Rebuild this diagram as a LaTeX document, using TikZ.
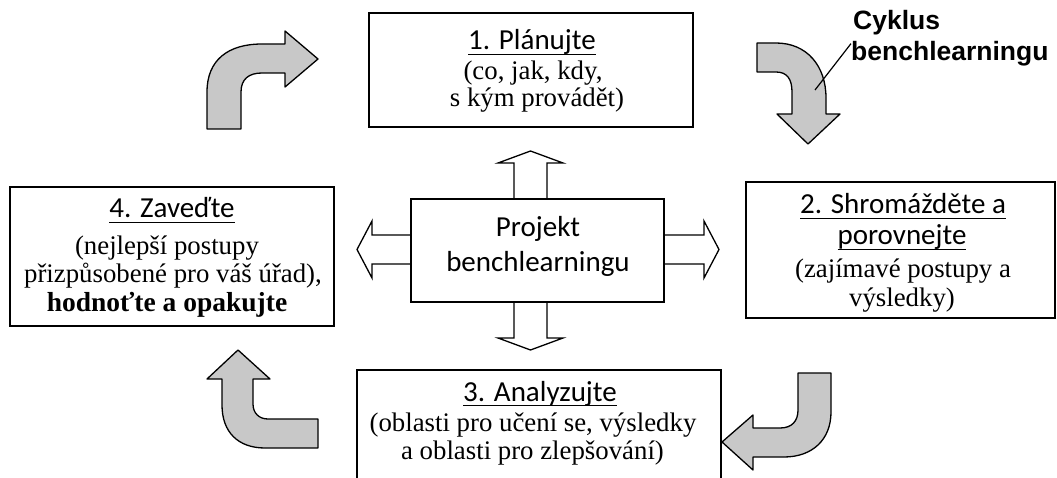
\documentclass[tikz,border=0pt]{standalone}
\usepackage{fontspec}
\newfontfamily\calfont{Carlito}
\newfontfamily\serfont{Liberation Serif}
\newfontfamily\labelfont{Liberation Sans}
\definecolor{arrowgray}{RGB}{200,200,200}
% underline set at a fixed depth below the baseline
\newsavebox{\ulinebox}
\newcommand{\ulined}[1]{\sbox{\ulinebox}{#1}\rlap{\rule[-5pt]{\wd\ulinebox}{1.4pt}}\usebox{\ulinebox}}
\tikzset{
  box/.style={draw, line width=1.6pt, fill=white, inner sep=0pt},
  headline/.style={anchor=base, inner sep=0pt, font=\calfont\fontsize{29}{34}\selectfont},
  bodyline/.style={anchor=base, inner sep=0pt, font=\serfont\fontsize{26.8}{30}\selectfont},
  boldline/.style={anchor=base, inner sep=0pt, font=\serfont\bfseries\fontsize{27.5}{30}\selectfont},
  cyclabel/.style={anchor=base west, inner sep=0pt, font=\labelfont\bfseries\fontsize{26.5}{31}\selectfont},
  bentarrow/.style={draw, line width=1.3pt, fill=arrowgray, line join=round},
  blockarrow/.style={draw, line width=1.3pt, fill=white, line join=miter},
  leader/.style={draw, line width=1.2pt},
}
\begin{document}
\begin{tikzpicture}[x=1pt,y=-1pt]
\clip (0,0) rectangle (1057,478);

% curved grey arrows of the cycle
\draw[bentarrow] (207,129) -- (207,92) .. controls (207,60) and (228,44) .. (262,44)
  -- (285,44) -- (285,31) -- (318,59) -- (285,87) -- (285,73) -- (262,73)
  .. controls (249,73) and (241,79) .. (241,92) -- (241,129) -- cycle;
\draw[bentarrow] (757,43) -- (776,43) .. controls (807,43) and (826,66) .. (826,98)
  -- (826,114) -- (840,114) -- (808,144) -- (777,114) -- (792,114) -- (792,92)
  .. controls (792,79) and (787,72) .. (776,72) -- (757,72) -- cycle;
\draw[bentarrow] (798,373) -- (831,373) -- (831,412) .. controls (831,440) and (812,457) .. (784,457)
  -- (753,457) -- (753,470) -- (722,442) -- (753,415) -- (753,428) -- (780,428)
  .. controls (792,428) and (798,421) .. (798,410) -- cycle;
\draw[bentarrow] (318,419) -- (318,448) -- (265,448) .. controls (238,448) and (222,432) .. (222,405)
  -- (222,379) -- (207,379) -- (238,350) -- (270,379) -- (253,379) -- (253,404)
  .. controls (253,413) and (259,419) .. (268,419) -- cycle;

% hollow arrows around the project box
\draw[blockarrow] (514,201) -- (514,163) -- (498,163) -- (530.5,151) -- (563,163) -- (547,163) -- (547,201) -- cycle;
\draw[blockarrow] (514,300) -- (514,338) -- (498,338) -- (530.5,350) -- (563,338) -- (547,338) -- (547,300) -- cycle;
\draw[blockarrow] (413,235) -- (372,235) -- (372,221) -- (357,249.5) -- (372,278) -- (372,264) -- (413,264) -- cycle;
\draw[blockarrow] (662,235) -- (704,235) -- (704,221) -- (719,249.5) -- (704,278) -- (704,264) -- (662,264) -- cycle;

% boxes
\node[box, minimum width=324pt, minimum height=114pt] (plan) at (531,70) {};
\node[box, minimum width=309pt, minimum height=136pt] (collect) at (900.5,250) {};
\node[box, minimum width=364pt, minimum height=130pt] (analyse) at (539,435) {};
\node[box, minimum width=324pt, minimum height=139pt] (adopt) at (172,256.5) {};
\node[box, minimum width=253pt, minimum height=103pt] (core) at (537.5,250.5) {};

% step 1
\node[headline] (plan1) at (532,50) {\ulined{1. Plánujte}};
\node[bodyline] (plan2) at (533,80) {(co, jak, kdy,};
\node[bodyline] (plan3) at (537,107) {s kým provádět)};

% step 2
\node[headline] (collect1) at (903,214) {\ulined{2. Shromážděte a}};
\node[headline] (collect2) at (902,245) {\ulined{porovnejte}};
\node[bodyline] (collect3) at (903,277) {(zajímavé postupy a};
\node[bodyline] (collect4) at (902,306) {výsledky)};

% step 3
\node[headline] (analyse1) at (540,401) {\ulined{3. Analyzujte}};
\node[bodyline] (analyse2) at (533,431) {(oblasti pro učení se, výsledky};
\node[bodyline] (analyse3) at (532.5,459) {a oblasti pro zlepšování)};

% step 4
\node[headline] (adopt1) at (172,218) {\ulined{4. Zaveďte}};
\node[bodyline] (adopt2) at (167,255) {(nejlepší postupy};
\node[bodyline] (adopt3) at (173,283) {přizpůsobené pro váš úřad),};
\node[boldline] (adopt4) at (167,312) {hodnoťte a opakujte};

% project box text
\node[headline] (core1) at (538,237) {Projekt};
\node[headline] (core2) at (538,272) {benchlearningu};

% cycle label with its leader line
\node[cyclabel] (cyc1) at (853,30) {Cyklus};
\node[cyclabel] (cyc2) at (851,61) {benchlearningu};
\coordinate (lead) at (815,90);
\draw[leader] ([yshift=-2pt]cyc2.north west) -- (lead);
\end{tikzpicture}
\end{document}
